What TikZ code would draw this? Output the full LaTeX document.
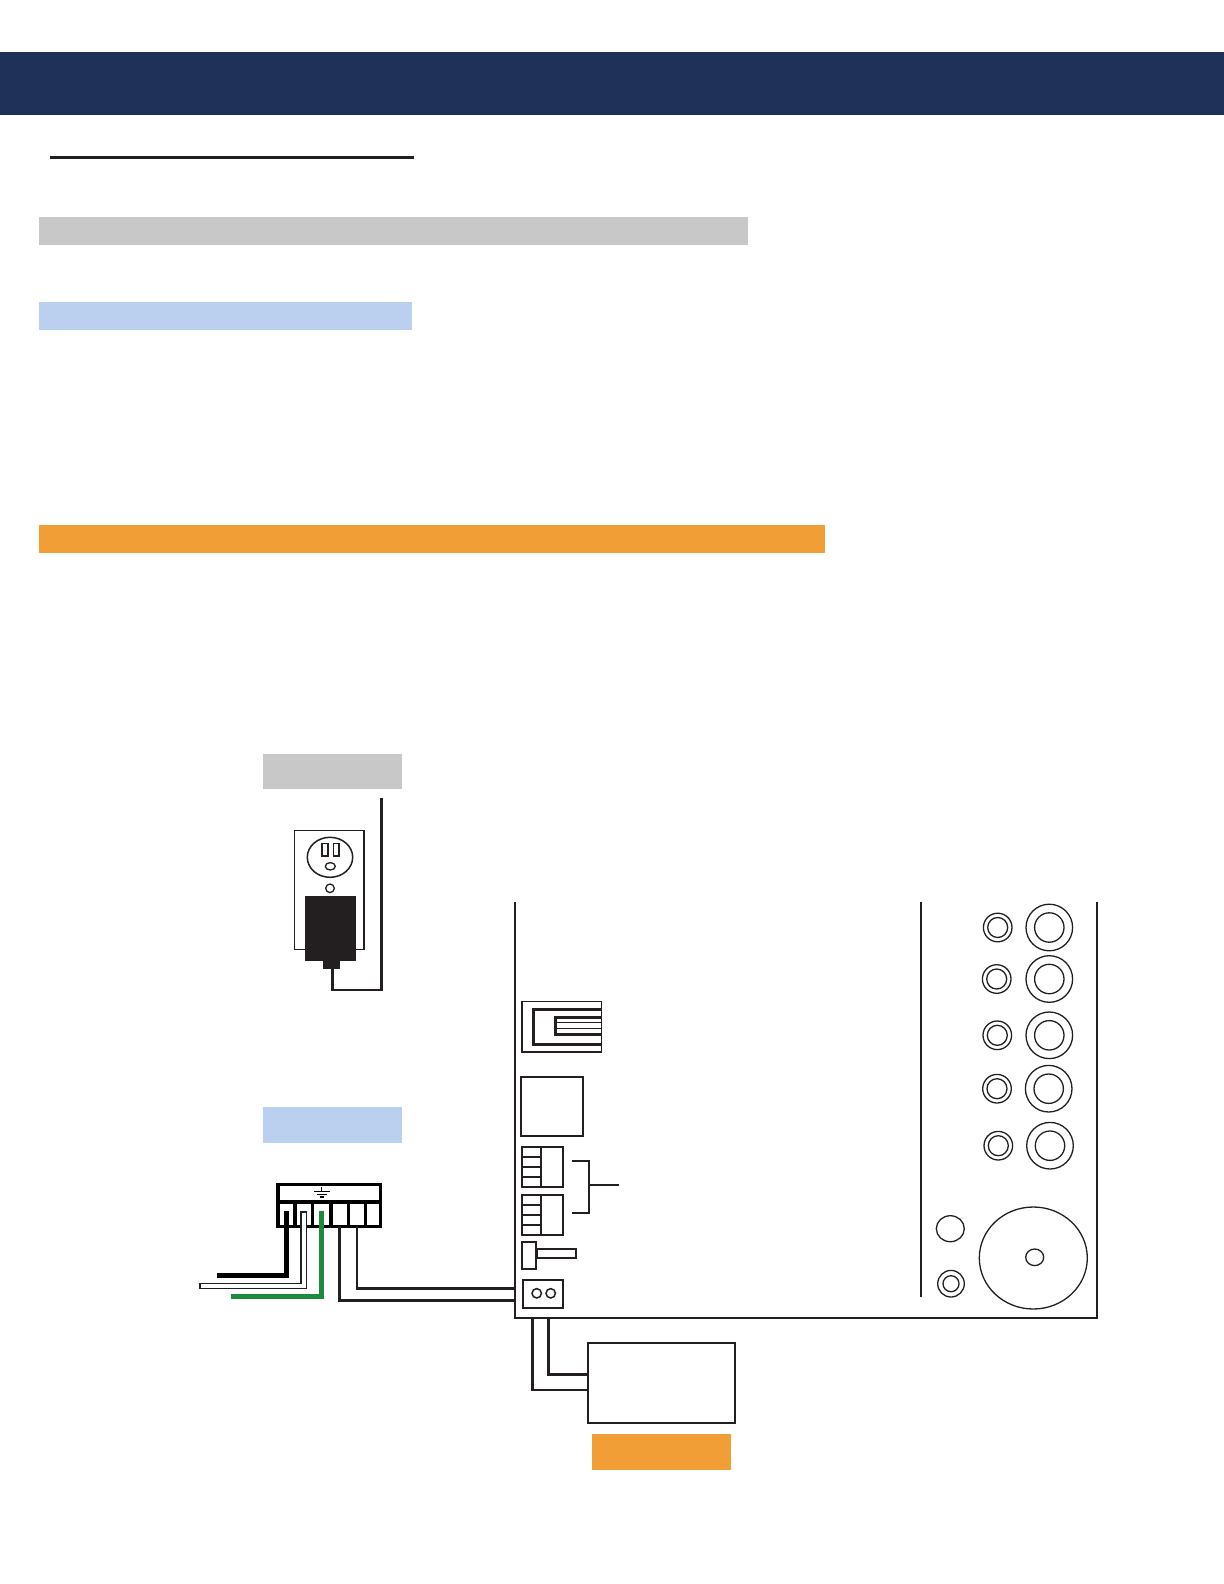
\documentclass[tikz,border=0pt]{standalone}
\usepackage[svgnames]{xcolor}
\definecolor{navy}{HTML}{1F3159}
\definecolor{ink}{HTML}{231F20}
\definecolor{pgray}{HTML}{C8C8C8}
\definecolor{pblue}{HTML}{BAD0EE}
\definecolor{porange}{HTML}{F09E35}
\definecolor{pgreen}{HTML}{1A8C3C}
\usetikzlibrary{calc,positioning}
\tikzset{
  every node/.style={inner sep=0pt,outer sep=0pt},
  colorBar/.style={%
    rectangle,
    anchor=north west,
    fill=#1},
  partBox/.style={%
    rectangle,
    anchor=north west,
    draw=ink,
    line width=0.85pt},
  termCell/.style={%
    rectangle,
    anchor=north west,
    draw=black,
    line width=1.65pt,
    minimum height=12.2pt},
  panelLine/.style={%
    draw=ink,
    line width=0.85pt},
  signalWire/.style={%
    draw=ink,
    line width=1.4pt,
    line join=miter},
  thinPart/.style={%
    draw=ink,
    line width=0.6pt},
  jackRing/.style={%
    draw=ink,
    line width=0.65pt},
}
\begin{document}
\begin{tikzpicture}[x=0.5pt,y=-0.5pt]
  \useasboundingbox (0,0) rectangle (1224,1584);
  % page bars
  \node[colorBar=navy,minimum width=612pt,minimum height=31.35pt] (header) at (0,52) {};
  \node[colorBar=ink,minimum width=181.85pt,minimum height=1.6pt] (titleRule) at (50,156) {};
  \node[colorBar=pgray,minimum width=354.5pt,minimum height=14pt] (grayBar) at (39,217) {};
  \node[colorBar=pblue,minimum width=186.5pt,minimum height=14pt] (blueBar) at (39,302) {};
  \node[colorBar=porange,minimum width=393pt,minimum height=14pt] (orangeBar) at (39,525) {};
  % labels
  \node[colorBar=pgray,minimum width=69.5pt,minimum height=17.5pt] (grayLabel) at (263,754) {};
  \node[colorBar=pblue,minimum width=69.5pt,minimum height=18pt] (blueLabel) at (263,1107) {};
  \node[colorBar=porange,minimum width=69.5pt,minimum height=18pt] (orangeLabel) at (592,1434) {};
  % outlet
  \node[partBox,line width=0.75pt,fill=white,minimum width=34.6pt,minimum height=59.5pt] (plate) at (294.7,830.7) {};
  \draw[jackRing,line width=0.75pt] (330,857.3) ellipse [x radius=22.7,y radius=20];
  \node[partBox,line width=0.6pt,minimum width=3pt,minimum height=6.15pt] (slotLeft) at (322,843.7) {};
  \node[partBox,line width=0.6pt,minimum width=2.85pt,minimum height=6.15pt] (slotRight) at (333.3,843.7) {};
  \draw[jackRing] (330.3,866.3) ellipse [x radius=5,y radius=3.7];
  \draw[jackRing] (330,888.3) circle [radius=4.3];
  \node[colorBar=ink,minimum width=25.5pt,minimum height=32.65pt] (plug) at (305.3,896) {};
  \node[colorBar=ink,minimum width=8.65pt,minimum height=4pt] (plugStem) at (322.7,961) {};
  \coordinate (powerEnd) at (381.7,798);
  \draw[signalWire] (332.5,965) |- (381.7,990) -- (powerEnd);
  % panel
  \coordinate (panelTopLeft) at (514.8,902);
  \coordinate (panelBottomLeft) at (514.8,1318);
  \coordinate (panelBottomRight) at (1097.3,1318);
  \coordinate (panelTopRight) at (1097.3,902);
  \draw[panelLine] (panelTopLeft) -- (panelBottomLeft) -- (panelBottomRight) -- (panelTopRight);
  \draw[panelLine,line width=1pt] (921,902) -- (921,1296.7);
  % phone jack
  \node[partBox,minimum width=39.8pt,minimum height=25.3pt] (phoneJack) at (522,1001.4) {};
  \draw[draw=ink,line width=1.65pt] (601.6,1009.5) -- (533.5,1009.5) -- (533.5,1044.5) -- (601.6,1044.5);
  \draw[draw=ink,line width=1.5pt] (601.6,1017) -- (555,1017) -- (555,1034) -- (601.6,1034);
  \draw[thinPart] (555,1022.7) -- (601.6,1022.7) (555,1028.4) -- (601.6,1028.4);
  % left side parts
  \node[partBox,minimum width=30.9pt,minimum height=29.3pt] (netPort) at (521,1077.2) {};
  \foreach \y/\n in {1146.8/upper,1194.8/lower}{
    \node[partBox,minimum width=20.65pt,minimum height=20.2pt] (plug \n) at (522,\y) {};
    \node[partBox,minimum width=9.35pt,minimum height=20.2pt] (pins \n) at (522,\y) {};
    \foreach \r in {1,2,3}
      \draw[panelLine] ($(pins \n.north west)!\r/4!(pins \n.south west)$) -- ($(pins \n.north east)!\r/4!(pins \n.south east)$);
  }
  \coordinate (braceTop) at (572.3,1160.7);
  \coordinate (braceBottom) at (572.3,1212.7);
  \coordinate (braceEnd) at (619,1185);
  \draw[signalWire,line width=1pt] (braceTop) -- (589,1160.7) -- (589,1212.7) -- (braceBottom);
  \draw[signalWire,line width=1pt] (589,1185) -- (braceEnd);
  \node[partBox,minimum width=19.5pt,minimum height=4.6pt] (knobBar) at (537,1249) {};
  \node[partBox,fill=white,minimum width=7.1pt,minimum height=13.8pt] (knob) at (521.8,1241.7) {};
  \node[partBox,line width=1pt,minimum width=19.6pt,minimum height=13.8pt] (powerIn) at (523.4,1280) {};
  \draw[jackRing,line width=0.75pt] (536.7,1293.3) circle [radius=4.7];
  \draw[jackRing,line width=0.75pt] (550.7,1293.3) circle [radius=4.7];
  % jacks
  \foreach \xa/\xb/\y in {997.7/1049.3/927.5,996.7/1049.3/979,997.3/1049.3/1035.3,997/1048.7/1088.7,998.3/1050/1145.7}{
    \draw[jackRing] (\xa,\y) circle [radius=14.3];
    \draw[jackRing] (\xa,\y) circle [radius=10];
    \draw[jackRing] (\xb,\y) circle [radius=23.3];
    \draw[jackRing] (\xb,\y) circle [radius=14.7];
  }
  \draw[jackRing] (950.3,1228.7) ellipse [x radius=14,y radius=13];
  \draw[jackRing] (951,1283.7) circle [radius=13.3];
  \draw[jackRing] (951,1283.7) circle [radius=8];
  \draw[jackRing] (1033.3,1258) ellipse [x radius=54,y radius=51];
  \draw[jackRing] (1034.7,1257.3) ellipse [x radius=9,y radius=8.3];
  % terminal block
  \node[termCell,minimum width=51.15pt,minimum height=8.65pt] (termHead) at (278,1184.7) {};
  \foreach \i/\x/\w in {1/278/8.5,2/295/8.65,3/312.3/9.35,4/331/8.65,5/348.3/8.7,6/365.7/7.3}
    \node[termCell,minimum width=\w pt] (term \i) at (\x,1202) {};
  \draw[black,line width=0.6pt] (321.7,1187.3) -- (321.7,1191.7)
    (314,1191.7) -- (329.5,1191.7)
    (316.5,1194.3) -- (327,1194.3)
    (319.5,1197) -- (324,1197);
  % wires
  \coordinate (blackEnd) at (216.7,1275.7);
  \coordinate (whiteEnd) at (199.3,1286);
  \coordinate (greenEnd) at (231,1296.7);
  \draw[draw=black,line width=2.7pt] ([yshift=1.5pt]term 1.center) |- (blackEnd);
  \draw[draw=ink,line width=3.35pt] ([yshift=1.5pt]term 2.center) |- (whiteEnd);
  \draw[draw=white,line width=2.05pt,shorten >=0.65pt,shorten <=0.65pt] ([yshift=1.5pt]term 2.center) |- (whiteEnd);
  \draw[draw=pgreen,line width=2.65pt] ([yshift=1.5pt]term 3.center) |- (greenEnd);
  \draw[signalWire] (term 4.south) |- (panelTopLeft |- 0,1300.3);
  \draw[signalWire] (term 5.south) |- (panelTopLeft |- 0,1288.3);
  % output box
  \node[partBox,line width=1pt,minimum width=73.8pt,minimum height=40pt] (speakerBox) at (587.7,1343) {};
  \draw[signalWire] (532.7,1318) |- (speakerBox.west |- 0,1390);
  \draw[signalWire] (548.3,1318) |- (speakerBox.west |- 0,1374.3);
\end{tikzpicture}
\end{document}
